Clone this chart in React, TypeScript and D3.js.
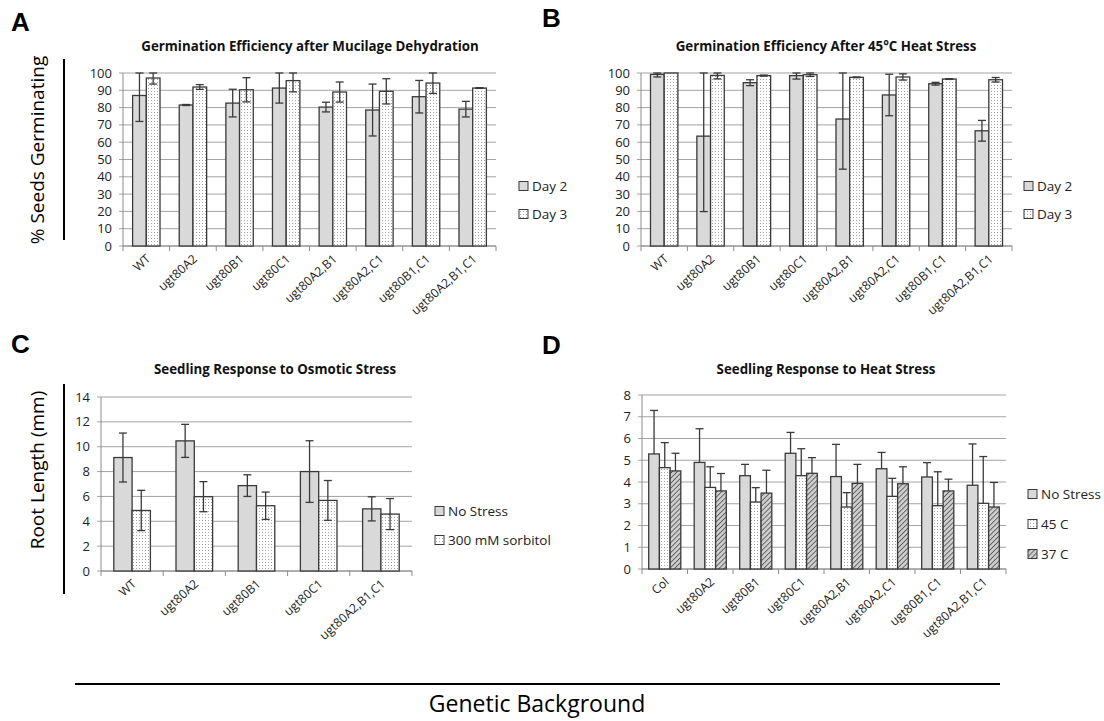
import * as d3 from 'd3';
import React from 'react';

// genotype names for each panel
const linesAB = ['WT', 'ugt80A2', 'ugt80B1', 'ugt80C1', 'ugt80A2,B1', 'ugt80A2,C1', 'ugt80B1,C1', 'ugt80A2,B1,C1'];
const linesC = ['WT', 'ugt80A2', 'ugt80B1', 'ugt80C1', 'ugt80A2,B1,C1'];
const linesD = ['Col', 'ugt80A2', 'ugt80B1', 'ugt80C1', 'ugt80A2,B1', 'ugt80A2,C1', 'ugt80B1,C1', 'ugt80A2,B1,C1'];

// A: germination after mucilage dehydration (%)
const dehydDay2 = [87, 81.5, 82.6, 91.3, 80.3, 78.6, 86.3, 79.1];
const dehydDay2Err = [15, 0.3, 8, 8.7, 2.8, 15, 9.4, 4.5];
const dehydDay3 = [97.1, 91.9, 90.3, 95.6, 89, 89.4, 94.2, 91.3];
const dehydDay3Err = [3.5, 1.4, 7, 6.5, 5.8, 7.3, 6, 0.2];

// B: germination after 45C heat stress (%)
const heatDay2 = [99.2, 63.5, 94.4, 98.5, 73.4, 87.3, 93.8, 66.6];
const heatDay2Err = [1.5, 43.6, 1.7, 2, 29, 12, 0.8, 6];
const heatDay3 = [100, 98.6, 98.5, 99, 97.5, 97.7, 96.5, 96.1];
const heatDay3Err = [0, 2, 0.3, 1, 0.2, 1.8, 0.2, 1.3];

// C: root length under osmotic stress (mm)
const osmNoStress = [9.13, 10.47, 6.87, 8.0, 5.0];
const osmNoStressErr = [1.97, 1.33, 0.87, 2.48, 0.97];
const osmSorbitol = [4.87, 5.98, 5.25, 5.68, 4.58];
const osmSorbitolErr = [1.62, 1.21, 1.1, 1.6, 1.25];

// D: root length under heat stress (mm), only the upper error is drawn
const hsNoStress = [5.29, 4.9, 4.29, 5.32, 4.25, 4.61, 4.23, 3.85];
const hsNoStressErr = [2.0, 1.55, 0.52, 0.96, 1.48, 0.75, 0.66, 1.9];
const hs45 = [4.66, 3.75, 3.08, 4.29, 2.85, 3.34, 2.91, 3.02];
const hs45Err = [1.15, 0.95, 0.66, 1.24, 0.66, 0.83, 1.56, 2.15];
const hs37 = [4.51, 3.59, 3.49, 4.4, 3.94, 3.92, 3.59, 2.85];
const hs37Err = [0.81, 0.8, 1.05, 0.72, 0.87, 0.78, 0.54, 1.13];

const FONT = '"Open Sans", sans-serif';
const FILL_SOLID = '#d9d9d9';
const FILL_DOTS = 'url(#dots)';
const FILL_HATCH = 'url(#hatch)';

type Series = {
    name: string;
    values: number[];
    errs: number[];
    fill: string;
};

type PanelProps = {
    box: [number, number, number, number]; // left, top, right, bottom
    max: number;
    step: number;
    categories: string[];
    series: Series[];
    barWidth: number;
    plusOnly?: boolean;
    title: string;
    titleX: number;
    titleY: number;
    legendX: number;
    legendY: number;
    legendGap: number;
};

/**
 * One Excel-style clustered bar chart with error bars.
 */
function BarPanel(props: PanelProps) {
    const [left, top, right, bottom] = props.box;
    const { categories, series, barWidth } = props;

    const x = d3.scaleBand().domain(categories).range([left, right]).padding(0);
    const keys = series.map(s => s.name);
    const inner = d3.scaleBand().domain(keys).range([0, barWidth * keys.length]);
    const offset = (x.bandwidth() - barWidth * keys.length) / 2;
    const y = d3.scaleLinear().domain([0, props.max]).range([bottom, top]);
    const ticks = d3.range(0, props.max + props.step / 2, props.step);

    return (
        <g>
            <text x={props.titleX} y={props.titleY} textAnchor='middle'
                fontFamily={FONT} fontWeight='bold' fontSize={13.3} fill='#111'>{props.title}</text>

            {ticks.map(t => (
                <g key={t}>
                    <line x1={left - 4} x2={right} y1={y(t)} y2={y(t)} stroke='#a3a3a3' strokeWidth={1} />
                    <text x={left - 11} y={y(t)} dy='0.35em' textAnchor='end'
                        fontFamily={FONT} fontSize={13} fill='#222'>{t}</text>
                </g>
            ))}
            <line x1={left} x2={left} y1={top} y2={bottom} stroke='#8c8c8c' />
            <line x1={left} x2={right} y1={bottom} y2={bottom} stroke='#8c8c8c' />
            {d3.range(categories.length + 1).map(i => {
                const tx = left + i * x.bandwidth();

                return <line key={i} x1={tx} x2={tx} y1={bottom} y2={bottom + 5} stroke='#8c8c8c' />;
            })}

            {series.map(s => s.values.map((v, i) => {
                const bx = (x(categories[i]) as number) + offset + (inner(s.name) as number);
                const cx = bx + barWidth / 2;
                const hi = y(Math.min(v + s.errs[i], props.max));
                const lo = props.plusOnly ? y(v) : y(v - s.errs[i]);

                return (
                    <g key={`${s.name}-${i}`}>
                        <rect x={bx} y={y(v)} width={barWidth} height={bottom - y(v)}
                            fill={s.fill} stroke='#3a3a3a' strokeWidth={1.3} />
                        {s.errs[i] > 0 && (
                            <g stroke='#3a3a3a' strokeWidth={1.3}>
                                <line x1={cx} x2={cx} y1={hi} y2={lo} />
                                <line x1={cx - 4} x2={cx + 4} y1={hi} y2={hi} />
                                {!props.plusOnly && <line x1={cx - 4} x2={cx + 4} y1={lo} y2={lo} />}
                            </g>
                        )}
                    </g>
                );
            }))}

            {categories.map(c => {
                const cx = (x(c) as number) + x.bandwidth() / 2 + 5;

                return (
                    <text key={c} transform={`translate(${cx},${bottom + 14}) rotate(-42)`}
                        textAnchor='end' fontFamily={FONT} fontSize={12.2} fill='#222'>{c}</text>
                );
            })}

            {series.map((s, i) => {
                const ly = props.legendY + i * props.legendGap;

                return (
                    <g key={s.name}>
                        <rect x={props.legendX} y={ly - 4.5} width={9} height={9}
                            fill={s.fill} stroke='#3a3a3a' strokeWidth={1} />
                        <text x={props.legendX + 13} y={ly} dy='0.35em'
                            fontFamily={FONT} fontSize={13.5} fill='#222'>{s.name}</text>
                    </g>
                );
            })}
        </g>
    );
}

/**
 * Four-panel germination / root length figure.
 */
export default function App() {
    return (
        <div style={{ position: 'absolute', left: 0, top: 0 }}>
            <svg width={1104} height={721} style={{ display: 'block', background: '#fff' }}>
                <defs>
                    <pattern id='dots' width={3} height={3} patternUnits='userSpaceOnUse'>
                        <rect width={3} height={3} fill='#fff' />
                        <rect x={1} y={1} width={1} height={1} fill='#a6a6a6' />
                    </pattern>
                    <pattern id='hatch' width={3.5} height={3.5} patternUnits='userSpaceOnUse'
                        patternTransform='rotate(45)'>
                        <rect width={3.5} height={3.5} fill='#cfcfcf' />
                        <line x1={0} x2={0} y1={0} y2={3.5} stroke='#5a5a5a' strokeWidth={1.8} />
                    </pattern>
                </defs>

                <g fontFamily='"Liberation Sans", Arial, sans-serif' fontWeight='bold' fontSize={26} fill='#000'>
                    <text x={11} y={31}>A</text>
                    <text x={542} y={27}>B</text>
                    <text x={11} y={353}>C</text>
                    <text x={542} y={354}>D</text>
                </g>

                <BarPanel box={[123, 73, 496, 246]} max={100} step={10} categories={linesAB}
                    barWidth={13.7} title='Germination Efficiency after Mucilage Dehydration'
                    titleX={310} titleY={51} legendX={519} legendY={186} legendGap={28}
                    series={[
                        { name: 'Day 2', values: dehydDay2, errs: dehydDay2Err, fill: FILL_SOLID },
                        { name: 'Day 3', values: dehydDay3, errs: dehydDay3Err, fill: FILL_DOTS },
                    ]} />

                <BarPanel box={[641, 73, 1012, 246]} max={100} step={10} categories={linesAB}
                    barWidth={13.7} title='Germination Efficiency After 45°C Heat Stress'
                    titleX={826} titleY={51} legendX={1024} legendY={186} legendGap={28}
                    series={[
                        { name: 'Day 2', values: heatDay2, errs: heatDay2Err, fill: FILL_SOLID },
                        { name: 'Day 3', values: heatDay3, errs: heatDay3Err, fill: FILL_DOTS },
                    ]} />

                <BarPanel box={[101, 397, 412, 571]} max={14} step={2} categories={linesC}
                    barWidth={18.3} title='Seedling Response to Osmotic Stress'
                    titleX={275} titleY={374} legendX={435} legendY={511} legendGap={29}
                    series={[
                        { name: 'No Stress', values: osmNoStress, errs: osmNoStressErr, fill: FILL_SOLID },
                        { name: '300 mM sorbitol', values: osmSorbitol, errs: osmSorbitolErr, fill: FILL_DOTS },
                    ]} />

                <BarPanel box={[642, 395, 1006, 569]} max={8} step={1} categories={linesD}
                    barWidth={10.7} plusOnly title='Seedling Response to Heat Stress'
                    titleX={826} titleY={374} legendX={1028} legendY={494} legendGap={30}
                    series={[
                        { name: 'No Stress', values: hsNoStress, errs: hsNoStressErr, fill: FILL_SOLID },
                        { name: '45 C', values: hs45, errs: hs45Err, fill: FILL_DOTS },
                        { name: '37 C', values: hs37, errs: hs37Err, fill: FILL_HATCH },
                    ]} />

                <g fontFamily={FONT} fill='#000'>
                    <text transform='translate(44,150) rotate(-90)' textAnchor='middle' fontSize={19}>% Seeds Germinating</text>
                    <text transform='translate(44,470) rotate(-90)' textAnchor='middle' fontSize={19}>Root Length (mm)</text>
                    <text x={537} y={712} textAnchor='middle' fontSize={23}>Genetic Background</text>
                </g>
                <g stroke='#000' strokeWidth={2}>
                    <line x1={64} x2={64} y1={59} y2={240} />
                    <line x1={64} x2={64} y1={384} y2={594} />
                    <line x1={75} x2={1000} y1={684} y2={684} />
                </g>
            </svg>
        </div>
    );
}
